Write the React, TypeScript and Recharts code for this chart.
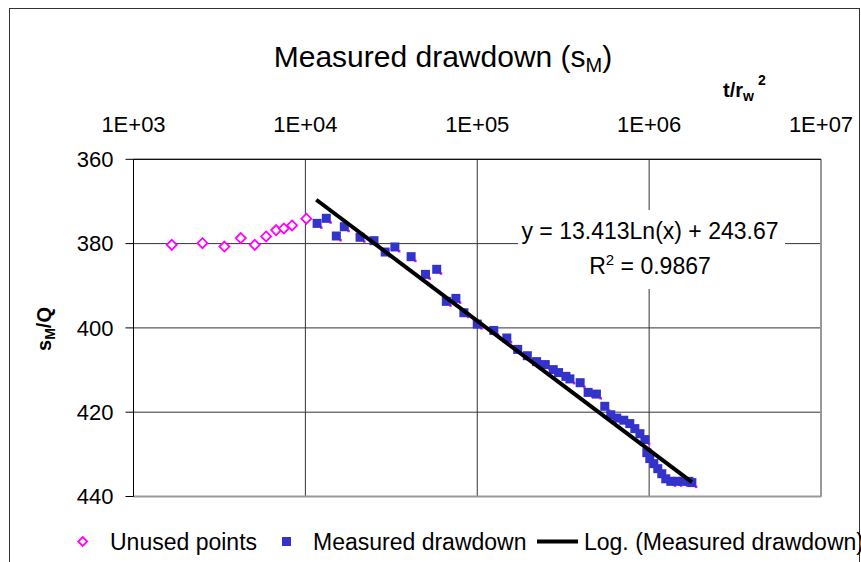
import React from "react";
import {
  ScatterChart,
  Scatter,
  XAxis,
  YAxis,
  CartesianGrid,
  ReferenceLine,
  Legend,
  Customized,
} from "recharts";

const FONT = "'Liberation Sans', Arial, sans-serif";

// top log axis (t/rw^2) and reversed drawdown axis
const xTicks = [1e3, 1e4, 1e5, 1e6, 1e7];
const yTicks = [360, 380, 400, 420, 440];

const unusedX = [1670, 2520, 3380, 4210, 5080, 5910, 6760, 7490, 8370, 10130];
const unusedY = [380.3, 379.9, 380.7, 378.7, 380.3, 378.3, 376.8, 376.4, 375.7, 374.1];

const measuredX = [
  11700, 13240, 15140, 16850, 20800, 25070, 29130, 33170, 41230, 49980, 58100, 66100,
  75100, 83600, 100000, 124800, 148600, 171900, 195600, 221400, 248700, 276800, 297300,
  328000, 346000, 397000, 441700, 493600, 552000, 598000, 648000, 712000, 772000, 826000,
  884000, 945000, 970000, 1009000, 1065000, 1123000, 1185000, 1250000, 1337000, 1449000,
  1571000, 1703000, 1773000,
];
const measuredY = [
  375.2, 374.0, 378.2, 376.0, 378.5, 379.3, 382.0, 380.8, 383.1, 387.3, 386.1, 393.7,
  393.0, 396.4, 399.1, 400.6, 402.4, 405.1, 406.6, 408.0, 408.7, 409.9, 410.6,
  411.5, 412.1, 413.0, 415.3, 415.7, 418.6, 420.6, 421.4, 421.9, 422.7, 423.9,
  425.1, 426.5, 429.6, 431.0, 432.2, 433.4, 434.6, 435.8, 436.4, 436.4,
  436.4, 436.4, 436.7,
];

// log trendline end points
const trendX = [11570, 1773000];
const trendY = [369.6, 436.6];

const unused = unusedX.map((x, i) => ({ x, y: unusedY[i] }));
const measured = measuredX.map((x, i) => ({ x, y: measuredY[i] }));
const trend = trendX.map((x, i) => ({ x, y: trendY[i] }));

const PINK = "#FF00FF";
const BLUE = "#3333CC";

const fmtExp = (v: number) => {
  const e = Math.round(Math.log10(v));
  return `1E+${String(e).padStart(2, "0")}`;
};

function Diamond(props: any) {
  const { cx, cy } = props;
  if (cx == null || cy == null) return null;
  const r = 5;
  return (
    <path
      d={`M${cx},${cy - r} L${cx + r},${cy} L${cx},${cy + r} L${cx - r},${cy} Z`}
      fill="#fff"
      stroke={PINK}
      strokeWidth={1.8}
    />
  );
}

function Square(props: any) {
  const { cx, cy } = props;
  if (cx == null || cy == null) return null;
  return (
    <g>
      <rect x={cx + 3} y={cy + 3} width={2.5} height={2.5} fill={PINK} />
      <rect x={cx - 4.5} y={cy - 4.5} width={9} height={9} fill={BLUE} />
    </g>
  );
}

function Annotations() {
  return (
    <g style={{ fontFamily: FONT }}>
      <text x={443} y={67} textAnchor="middle" fontSize={30} fill="#000">
        Measured drawdown (s
        <tspan fontSize={20} dy={5}>M</tspan>
        <tspan dy={-5}>)</tspan>
      </text>
      <text x={723} y={97} fontSize={20} fontWeight="bold" fill="#000">
        t/r
        <tspan fontSize={14} dy={4}>w</tspan>
        <tspan fontSize={14} dy={-16} dx={4}>2</tspan>
      </text>
      <text
        transform="translate(51,329) rotate(-90)"
        textAnchor="middle"
        fontSize={20}
        fontWeight="bold"
        fill="#000"
      >
        s
        <tspan fontSize={14} dy={4}>M</tspan>
        <tspan dy={-4}>/Q</tspan>
      </text>
      <rect x={518} y={210} width={267} height={79} fill="#fff" />
      <text x={650} y={239} textAnchor="middle" fontSize={23} fill="#000">
        y = 13.413Ln(x) + 243.67
      </text>
      <text x={650} y={274} textAnchor="middle" fontSize={23} fill="#000">
        R<tspan fontSize={15} dy={-9}>2</tspan>
        <tspan dy={9}> = 0.9867</tspan>
      </text>
    </g>
  );
}

function LegendContent() {
  const ty = 28;
  return (
    <svg width={861} height={40} style={{ fontFamily: FONT, display: "block" }}>
      <path d="M82.7,15 L87.2,19.5 L82.7,24 L78.2,19.5 Z" fill="#fff" stroke={PINK} strokeWidth={1.8} />
      <text x={110} y={ty} fontSize={23}>Unused points</text>
      <rect x={282} y={15} width={9} height={9} fill={BLUE} />
      <text x={313} y={ty} fontSize={23}>Measured drawdown</text>
      <line x1={537} y1={19.5} x2={578} y2={19.5} stroke="#000" strokeWidth={4} />
      <text x={584} y={ty} fontSize={23}>Log. (Measured drawdown)</text>
    </svg>
  );
}

export default function App() {
  return (
    <div
      style={{
        position: "absolute",
        left: 0,
        top: 0,
        width: 861,
        height: 562,
        background: "#fff",
        overflow: "hidden",
      }}
    >
      <div
        style={{
          position: "absolute",
          left: 9,
          top: 8,
          width: 849,
          height: 600,
          border: "1.5px solid #333",
        }}
      />
      <ScatterChart
        width={861}
        height={562}
        margin={{ top: 129.3, right: 40, bottom: 65.5, left: 73.5 }}
        style={{ fontFamily: FONT }}
      >
        <CartesianGrid stroke="#333" strokeWidth={1} />
        <XAxis
          dataKey="x"
          type="number"
          scale="log"
          orientation="top"
          domain={[1e3, 1e7]}
          ticks={xTicks}
          tickFormatter={fmtExp}
          allowDataOverflow
          height={30}
          tickSize={0}
          tickMargin={27}
          tickLine={false}
          axisLine={{ stroke: "#000" }}
          tick={{ fill: "#000", fontSize: 22, fontFamily: FONT }}
        />
        <YAxis
          dataKey="y"
          type="number"
          reversed
          domain={[360, 440]}
          ticks={yTicks}
          width={60}
          tickSize={8}
          tickMargin={12}
          axisLine={{ stroke: "#000" }}
          tickLine={{ stroke: "#000" }}
          tick={{ fill: "#000", fontSize: 22, fontFamily: FONT }}
        />
        <ReferenceLine x={1e7} stroke="#999" strokeWidth={2} />
        <ReferenceLine y={440} stroke="#999" strokeWidth={2} />
        <Customized component={Annotations} />
        <Scatter
          name="Unused points"
          data={unused}
          shape={Diamond}
          isAnimationActive={false}
        />
        <Scatter
          name="Measured drawdown"
          data={measured}
          shape={Square}
          isAnimationActive={false}
        />
        <Scatter
          name="Log. (Measured drawdown)"
          data={trend}
          line={{ stroke: "#000", strokeWidth: 4 }}
          shape={() => null}
          isAnimationActive={false}
        />
        <Legend
          verticalAlign="middle"
          align="center"
          layout="horizontal"
          wrapperStyle={{ top: 522, left: 0, width: 861, height: 40 }}
          content={LegendContent}
        />
      </ScatterChart>
    </div>
  );
}
